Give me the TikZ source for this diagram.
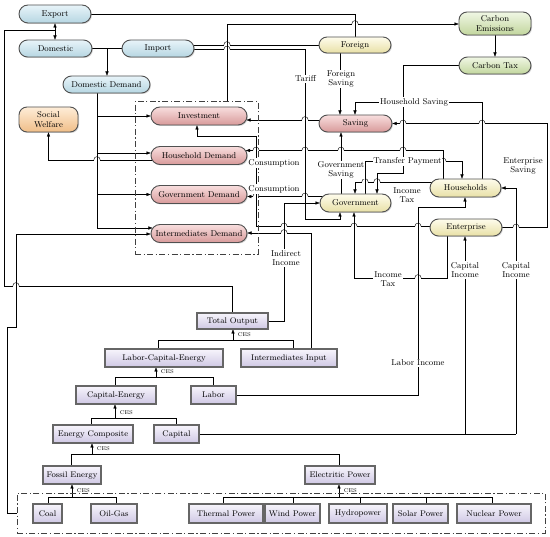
\documentclass[tikz,border=0pt]{standalone}
\usepackage{fontspec}
\usetikzlibrary{arrows.meta,shadows,backgrounds,calc}
\definecolor{blueT}{HTML}{E8F4F9}
\definecolor{blueB}{HTML}{B6D6E2}
\definecolor{pinkT}{HTML}{F8DEDE}
\definecolor{pinkB}{HTML}{D89A9A}
\definecolor{yelT}{HTML}{FEFCEC}
\definecolor{yelB}{HTML}{E8E0A6}
\definecolor{grnT}{HTML}{F0F7E4}
\definecolor{grnB}{HTML}{C2D69E}
\definecolor{orgT}{HTML}{FEEDD8}
\definecolor{orgB}{HTML}{F0BE88}
\definecolor{lavT}{HTML}{F7F5FC}
\definecolor{lavB}{HTML}{CFC8E4}
\definecolor{edge}{HTML}{505050}
\newcommand{\linehop}[2]{%
  \fill[white] ({#1-3.3},{#2-0.9}) rectangle ({#1+3.3},{#2+0.9});
  \draw ({#1},{#2-2}) -- ({#1},{#2+2});
  \draw ({#1-3.2},#2) .. controls ({#1-3.2},{#2-4.5}) and ({#1+3.2},{#2-4.5}) .. ({#1+3.2},#2);
}
\tikzset{
  rnd/.style={rectangle, rounded corners=8.5pt, draw=edge, line width=0.9pt, inner sep=0pt, outer sep=0pt,
    minimum height=17pt, font=\fontsize{8.5}{9.5}\selectfont, align=center,
    drop shadow={shadow xshift=1pt, shadow yshift=-1pt, opacity=0.35}},
  bluenode/.style={rnd, top color=blueT, bottom color=blueB},
  pinknode/.style={rnd, top color=pinkT, bottom color=pinkB},
  yelnode/.style={rnd, top color=yelT, bottom color=yelB},
  grnnode/.style={rnd, top color=grnT, bottom color=grnB},
  orgnode/.style={rnd, top color=orgT, bottom color=orgB},
  boxnode/.style={rectangle, draw=black!60, line width=1.2pt, inner sep=0pt, outer sep=0pt, minimum height=18pt,
    top color=lavT, bottom color=lavB, font=\fontsize{8.2}{9}\selectfont,
    drop shadow={shadow xshift=1pt, shadow yshift=-1pt, opacity=0.4}},
  lbl/.style={font=\fontsize{8.5}{9.5}\selectfont, inner sep=0.8pt, fill=white, align=center},
  plainlbl/.style={font=\fontsize{8.5}{9.5}\selectfont, inner sep=0.8pt, align=center},
  ces/.style={font=\fontsize{5.5}{6}\selectfont, inner sep=0.5pt, anchor=west},
  dbox/.style={draw=black!75, line width=0.8pt, dash pattern=on 6pt off 2.5pt on 1.2pt off 2.5pt, inner sep=0pt, outer sep=0pt},
  arr/.style={-{Latex[length=4.5pt,width=3.4pt]}},
}
\begin{document}
\begin{tikzpicture}[x=1pt,y=-1pt,line width=0.8pt]
\useasboundingbox (0,0) rectangle (550,537);

% dashed boxes
\node[dbox, minimum width=123pt, minimum height=153pt] (demandbox) at (196.5,177.5) {};
\node[dbox, minimum width=528pt, minimum height=40pt] (energybox) at (281,513) {};

% rounded nodes
\node[bluenode, minimum width=72pt, minimum height=18pt, rounded corners=9pt] (export) at (55,14) {Export};
\node[bluenode, minimum width=73pt] (domestic) at (55.5,48.5) {Domestic};
\node[bluenode, minimum width=72pt] (import) at (158,48.5) {Import};
\node[bluenode, minimum width=87pt] (domdemand) at (106.5,84.5) {Domestic Demand};
\node[orgnode, minimum width=59pt, minimum height=25pt, rounded corners=8pt] (welfare) at (48.5,119.5) {Social\\Welfare};
\node[pinknode, minimum width=96pt, minimum height=18pt, rounded corners=9pt] (invest) at (199,116) {Investment};
\node[pinknode, minimum width=96pt, minimum height=18pt, rounded corners=9pt] (hhdemand) at (199,155.5) {Household Demand};
\node[pinknode, minimum width=96pt, minimum height=18pt, rounded corners=9pt] (govdemand) at (199,194.5) {Government Demand};
\node[pinknode, minimum width=96pt, minimum height=18pt, rounded corners=9pt] (intdemand) at (199,233.5) {Intermediates Demand};
\node[pinknode, minimum width=73pt] (saving) at (355.5,123.5) {Saving};
\node[yelnode, minimum width=72pt, minimum height=16pt, rounded corners=8pt] (foreign) at (355,45) {Foreign};
\node[yelnode, minimum width=71pt, minimum height=18pt, rounded corners=9pt] (govt) at (355.5,203) {Government};
\node[yelnode, minimum width=71pt, minimum height=18pt, rounded corners=9pt] (households) at (465.5,188) {Households};
\node[yelnode, minimum width=72pt] (enterprise) at (466,227.5) {Enterprise};
\node[grnnode, minimum width=72pt, minimum height=23pt, rounded corners=8pt] (carbonem) at (495,23.5) {Carbon\\Emissions};
\node[grnnode, minimum width=72pt] (carbontax) at (495,65.5) {Carbon Tax};

% production boxes
\node[boxnode, minimum width=71pt, minimum height=16pt] (totalout) at (232.5,321) {Total Output};
\node[boxnode, minimum width=118pt] (lce) at (164,358) {Labor-Capital-Energy};
\node[boxnode, minimum width=96pt] (intinput) at (289,358) {Intermediates Input};
\node[boxnode, minimum width=80pt] (capen) at (116,395) {Capital-Energy};
\node[boxnode, minimum width=45pt] (labor) at (213.5,395) {Labor};
\node[boxnode, minimum width=80pt] (encomp) at (93,434) {Energy Composite};
\node[boxnode, minimum width=45pt] (capital) at (176.5,434) {Capital};
\node[boxnode, minimum width=58pt] (fossil) at (72,475) {Fossil Energy};
\node[boxnode, minimum width=70pt] (electric) at (340,475) {Electritic Power};
\node[boxnode, minimum width=29pt, minimum height=19pt] (coal) at (47.5,513.5) {Coal};
\node[boxnode, minimum width=46pt, minimum height=19pt] (oilgas) at (114,513.5) {Oil-Gas};
\node[boxnode, minimum width=74pt, minimum height=19pt] (thermal) at (226,513.5) {Thermal Power};
\node[boxnode, minimum width=55pt, minimum height=19pt] (wind) at (292.5,513.5) {Wind Power};
\node[boxnode, minimum width=58pt, minimum height=19pt] (hydro) at (358,513.5) {Hydropower};
\node[boxnode, minimum width=55pt, minimum height=19pt] (solar) at (420.5,513.5) {Solar Power};
\node[boxnode, minimum width=74pt, minimum height=19pt] (nuclear) at (494,513.5) {Nuclear Power};

\begin{scope}[on background layer]
% Export / Domestic / loop
\coordinate (j1) at (55,30);
\draw[arr] (j1) -- (export.south -| j1);
\draw[arr] (j1) -- (domestic.north -| j1);
\draw (totalout.center) -- (totalout.center |- 0,286) -- (4,286) -- (4,30) -- (j1);
% Export -> Foreign
\draw (export.center) -- (355,14) -- (foreign.north -| 355,0);
% demand -> carbon emissions
\draw[arr] (demandbox.north -| 227,0) -- (227,24) -- (carbonem.west |- 0,24);
\draw[arr] (carbonem.south) -- (carbontax.north);
% Import -> Foreign, Tariff
\draw (import.center |- 0,45) -- (foreign.center |- 0,45);
\draw[arr] (import.center |- 0,49.5) -- (305,49.5) -- (305,219) -- (340,219) -- (govt.south -| 340,0);
% Domestic -> Import, Domestic Demand
\draw (domestic.center) -- (import.center);
\draw[arr] (107,48.5) -- (domdemand.north -| 107,0);
% Domestic Demand -> demands
\draw (domdemand.center -| 97,0) -- (97,228);
\draw[arr] (97,116) -- (invest.west);
\draw[arr] (97,153) -- (hhdemand.west |- 0,153);
\draw[arr] (97,194.5) -- (govdemand.west);
\draw[arr] (97,228) -- ($(intdemand.west |- 0,228)+(1.9,0)$);
% Household demand -> social welfare
\draw[arr] (hhdemand.center |- 0,160) -- (48.5,160) -- (welfare.south);
% energy inputs -> intermediates demand
\draw[arr] (energybox.west) -- (7,513) -- (7,327) -- (16,327) -- (16,234) -- (intdemand.west |- 0,234);
% Saving -> Investment
\draw[arr] (saving.center |- 0,120) -- ($(invest.east |- 0,120)+(-0.9,0)$);
% Enterprise -> Investment
\draw[arr] (enterprise.center |- 0,226.5) -- (256,226.5) -- (256,136) -- (197,136) -- (invest.south -| 197,0);
% Households -> Household Demand
\draw[arr] (households.center -| 443,0) -- (443,150.5) -- ($(hhdemand.east |- 0,150.5)+(-1.5,0)$);
% Government -> Government Demand
\draw[arr] (govt.center |- 0,196.5) -- ($(govdemand.east |- 0,196.5)+(-0.2,0)$);
% Indirect income
\draw[arr] (totalout.center) -- (284,321) -- (284,203) -- (govt.west);
% Intermediates input -> intermediates demand
\draw[arr] (intinput.center -| 311,0) -- (311,233) -- (intdemand.east |- 0,233);
% savings
\draw[arr] (govt.center -| 341,0) -- (saving.south -| 341,0);
\draw[arr] (foreign.center -| 340,0) -- (saving.north -| 340,0);
\draw[arr] (households.center -| 482,0) -- (482,102) -- (355,102) -- (saving.north -| 355,0);
\draw[arr] (enterprise.center) -- (547,227.5) -- (547,123.5) -- (saving.east);
% carbon tax -> government
\draw[arr] (carbontax.center) -- (403,65.5) -- (403,173) -- (377,173) -- (govt.north -| 377,0);
% transfer payment
\draw[arr] (govt.center -| 365,0) -- (365,161.5) -- (462,161.5) -- (households.north -| 462,0);
% income tax households
\draw[arr] (households.center |- 0,182) -- (355,182) -- (govt.north -| 355,0);
% labor income
\draw[arr] (labor.center) -- (418,395) -- (418,207) -- (465,207) -- (households.south -| 465,0);
% capital income
\draw (capital.center) -- (516,434);
\draw[arr] (465,434) -- (enterprise.south -| 465,0);
\draw[arr] (516,434) -- (516,188) -- (households.east);
% income tax enterprise
\draw[arr] (enterprise.center -| 447,0) -- (447,278) -- (354,278) -- (govt.south -| 354,0);

% line hops
\foreach \hx/\hy in {16/286, 355/24, 227/45, 227/49.5, 97/160, 305/120,
  418/226.5, 354/226.5, 284/226.5, 403/150.5, 341/150.5, 305/150.5, 256/150.5,
  305/196.5, 256/196.5, 284/233, 516/227.5, 482/123.5, 403/123.5, 443/161.5,
  377/182, 365/182, 418/278}
  {\linehop{\hx}{\hy}}

% CES trees
\draw (lce.center -| 158,0) -- (158,340) -- (293,340) -- (intinput.center -| 293,0);
\draw[arr] (233,340) -- (totalout.south -| 233,0);
\draw (capen.center -| 115,0) -- (115,377) -- (213,377) -- (labor.center -| 213,0);
\draw[arr] (156,377) -- (lce.south -| 156,0);
\draw (encomp.center -| 91,0) -- (91,418) -- (176,418) -- (capital.center -| 176,0);
\draw[arr] (115,418) -- (capen.south -| 115,0);
\draw (fossil.center -| 71,0) -- (71,454) -- (339,454) -- (electric.center -| 339,0);
\draw[arr] (92,454) -- (encomp.south -| 92,0);
\draw (coal.center -| 48,0) -- (48,497) -- (116,497) -- (oilgas.center -| 116,0);
\draw[arr] (72,497) -- (fossil.south -| 72,0);
\draw (thermal.center -| 223,0) -- (223,497) -- (492,497) -- (nuclear.center -| 492,0);
\draw (293,497) -- (wind.center -| 293,0);
\draw (360,497) -- (hydro.center -| 360,0);
\draw (426,497) -- (solar.center -| 426,0);
\draw[arr] (339,497) -- (electric.south -| 339,0);
\end{scope}

% labels
\node[lbl] (ltariff) at (305.5,79) {Tariff};
\node[lbl] (lfsav) at (341,79) {Foreign\\Saving};
\node[lbl] (lhsav) at (414,102) {Household Saving};
\node[lbl] (lgsav) at (341,170) {Government\\Saving};
\node[lbl] (ltrans) at (407.5,161.5) {Transfer Payment};
\node[plainlbl] (lesav) at (523,166) {Enterprise\\Saving};
\node[plainlbl] (litax1) at (407,195) {Income\\Tax};
\node[lbl] (lcons1) at (274,163) {Consumption};
\node[lbl] (lcons2) at (274,189) {Consumption};
\node[lbl] (lind) at (286,258) {Indirect\\Income};
\node[lbl] (litax2) at (388,279) {Income\\Tax};
\node[lbl] (lcap1) at (465,270) {Capital\\Income};
\node[lbl] (lcap2) at (516,270) {Capital\\Income};
\node[lbl] (llab) at (418,363) {Labor Income};
\node[ces] (c1) at (237,335) {CES};
\node[ces] (c2) at (160,372) {CES};
\node[ces] (c3) at (119,413) {CES};
\node[ces] (c4) at (96,449) {CES};
\node[ces] (c5) at (76,491) {CES};
\node[ces] (c6) at (343,491) {CES};
\end{tikzpicture}
\end{document}
